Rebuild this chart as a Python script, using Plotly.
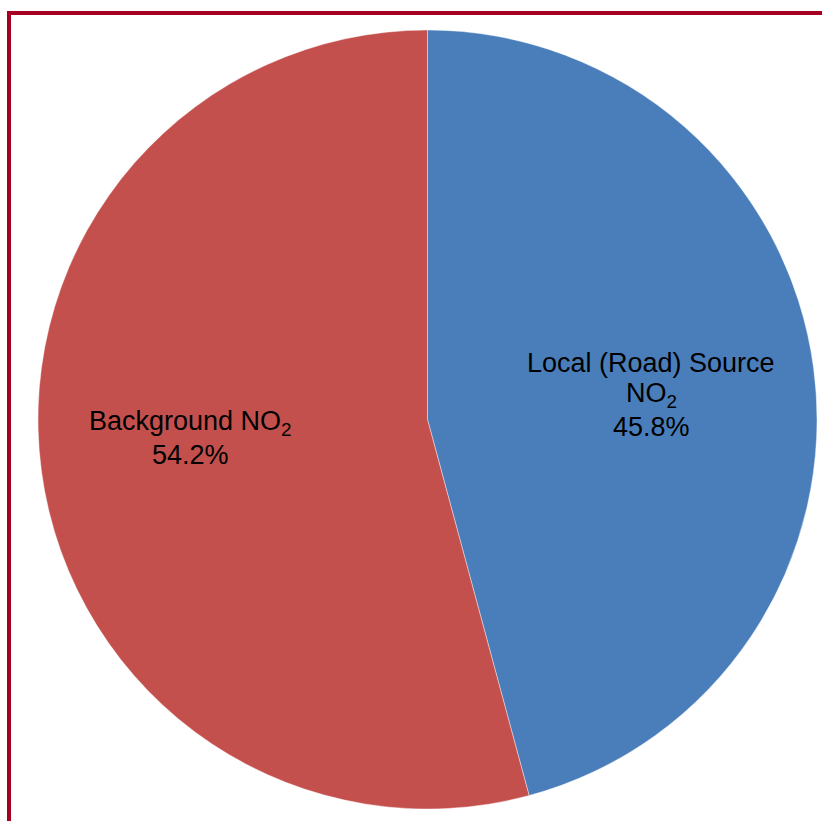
import plotly.graph_objects as go

# Share of NO2 by source
labels = ["Local (Road) Source NO<sub>2</sub>", "Background NO<sub>2</sub>"]
label_lines = [["Local (Road) Source", "NO<sub>2</sub>"], ["Background NO<sub>2</sub>"]]
values = [45.8, 54.2]
colors = ["#4A7EBB", "#C4504D"]

W, H = 822, 821
cx, cy, r = 427.5, 419.5, 389.5

fig = go.Figure(go.Pie(
    labels=labels,
    values=values,
    sort=False,
    direction="clockwise",
    rotation=0,
    marker=dict(colors=colors, line=dict(color="rgba(255,255,255,0.5)", width=0.8)),
    textinfo="none",
    hoverinfo="label+percent",
    showlegend=False,
    domain=dict(x=[(cx - r) / W, (cx + r) / W], y=[1 - (cy + r) / H, 1 - (cy - r) / H]),
))

font = dict(family="Liberation Sans, Arial, sans-serif", size=27, color="#000000")


def px(x, y):
    return x / W, 1 - y / H


# label blocks: centre x and the vertical centre of each line
label_pos = [(651, [363, 395]), (190, [423])]
pct_y = [427, 455]

annotations = []
for lines, v, (x, ys), py in zip(label_lines, values, label_pos, pct_y):
    for line, y in zip(lines, ys):
        ax, ay = px(x, y)
        annotations.append(dict(text=line, x=ax, y=ay, xref="paper", yref="paper",
                                showarrow=False, xanchor="center", yanchor="middle", font=font))
    ax, ay = px(x, py)
    annotations.append(dict(text=f"{v:.1f}%", x=ax, y=ay, xref="paper", yref="paper",
                            showarrow=False, xanchor="center", yanchor="middle", font=font))

border = "#A50021"
bx, by = px(9, 13)
shapes = [
    dict(type="line", xref="paper", yref="paper", x0=bx - 2 / W, x1=1.05, y0=by, y1=by,
         line=dict(color=border, width=4)),
    dict(type="line", xref="paper", yref="paper", x0=bx, x1=bx, y0=by + 2 / H, y1=-0.05,
         line=dict(color=border, width=4)),
]

fig.update_layout(
    width=W, height=H,
    margin=dict(l=0, r=0, t=0, b=0),
    paper_bgcolor="white",
    plot_bgcolor="white",
    annotations=annotations,
    shapes=shapes,
)

fig.write_html("out.html")
